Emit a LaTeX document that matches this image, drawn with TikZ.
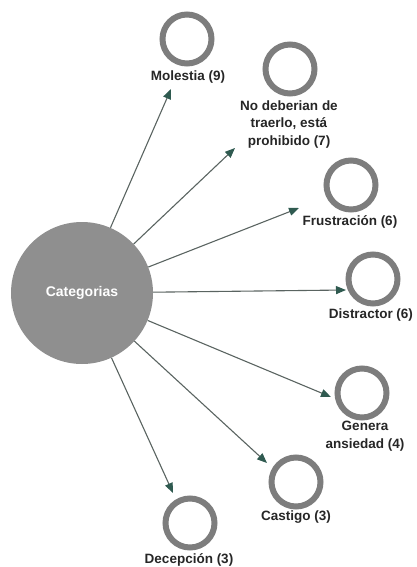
\documentclass[tikz,border=0pt]{standalone}
\usepackage{fontspec}
\setmainfont{Liberation Sans}
\usetikzlibrary{arrows.meta}
\definecolor{bigfill}{HTML}{8F8F8F}
\definecolor{ringcol}{HTML}{7D7D7D}
\definecolor{linecol}{HTML}{5A6461}
\definecolor{headcol}{HTML}{2F5A50}
\tikzset{
  ring/.style={circle, draw=ringcol, line width=6pt, minimum size=49pt, inner sep=0pt},
  lbl/.style={font=\fontsize{13.5}{17.5}\selectfont\bfseries, text=black!85, align=center, inner sep=0pt},
  conn/.style={draw=linecol, line width=1.1pt, -{Triangle[length=10pt,width=8pt,fill=headcol,color=headcol]}},
}
\begin{document}
\begin{tikzpicture}[x=1pt,y=-1pt]
\useasboundingbox (0,0) rectangle (417,567);
\node[circle, fill=bigfill, minimum size=142pt, inner sep=0pt, text=white,
      font=\fontsize{14}{16}\selectfont\bfseries] (big) at (82,293) {Categorias};

\node[ring] (r1) at (187,39) {};
\node[lbl] (l1) at (188,77) {Molestia (9)};
\node[ring] (r2) at (290,69) {};
\node[lbl] (l2) at (289,124.5) {No deberian de\\traerlo, está\\prohibido (7)};
\node[ring] (r3) at (351,185) {};
\node[lbl] (l3) at (350,222) {Frustración (6)};
\node[ring] (r4) at (373,279) {};
\node[lbl] (l4) at (371,315) {Distractor (6)};
\node[ring] (r5) at (362,393) {};
\node[lbl] (l5) at (365,436) {Genera\\ansiedad (4)};
\node[ring] (r6) at (296,482) {};
\node[lbl] (l6) at (296,517) {Castigo (3)};
\node[ring] (r7) at (190,523) {};
\node[lbl] (l7) at (189,560) {Decepción (3)};

\coordinate (t1) at (171,89);
\coordinate (t2) at (235,148);
\coordinate (t3) at (299,208);
\coordinate (t4) at (346,290);
\coordinate (t5) at (331,397);
\coordinate (t6) at (267,463);
\coordinate (t7) at (173,493);

\foreach \i in {1,...,7} { \draw[conn] (big) -- (t\i); }
\end{tikzpicture}
\end{document}
